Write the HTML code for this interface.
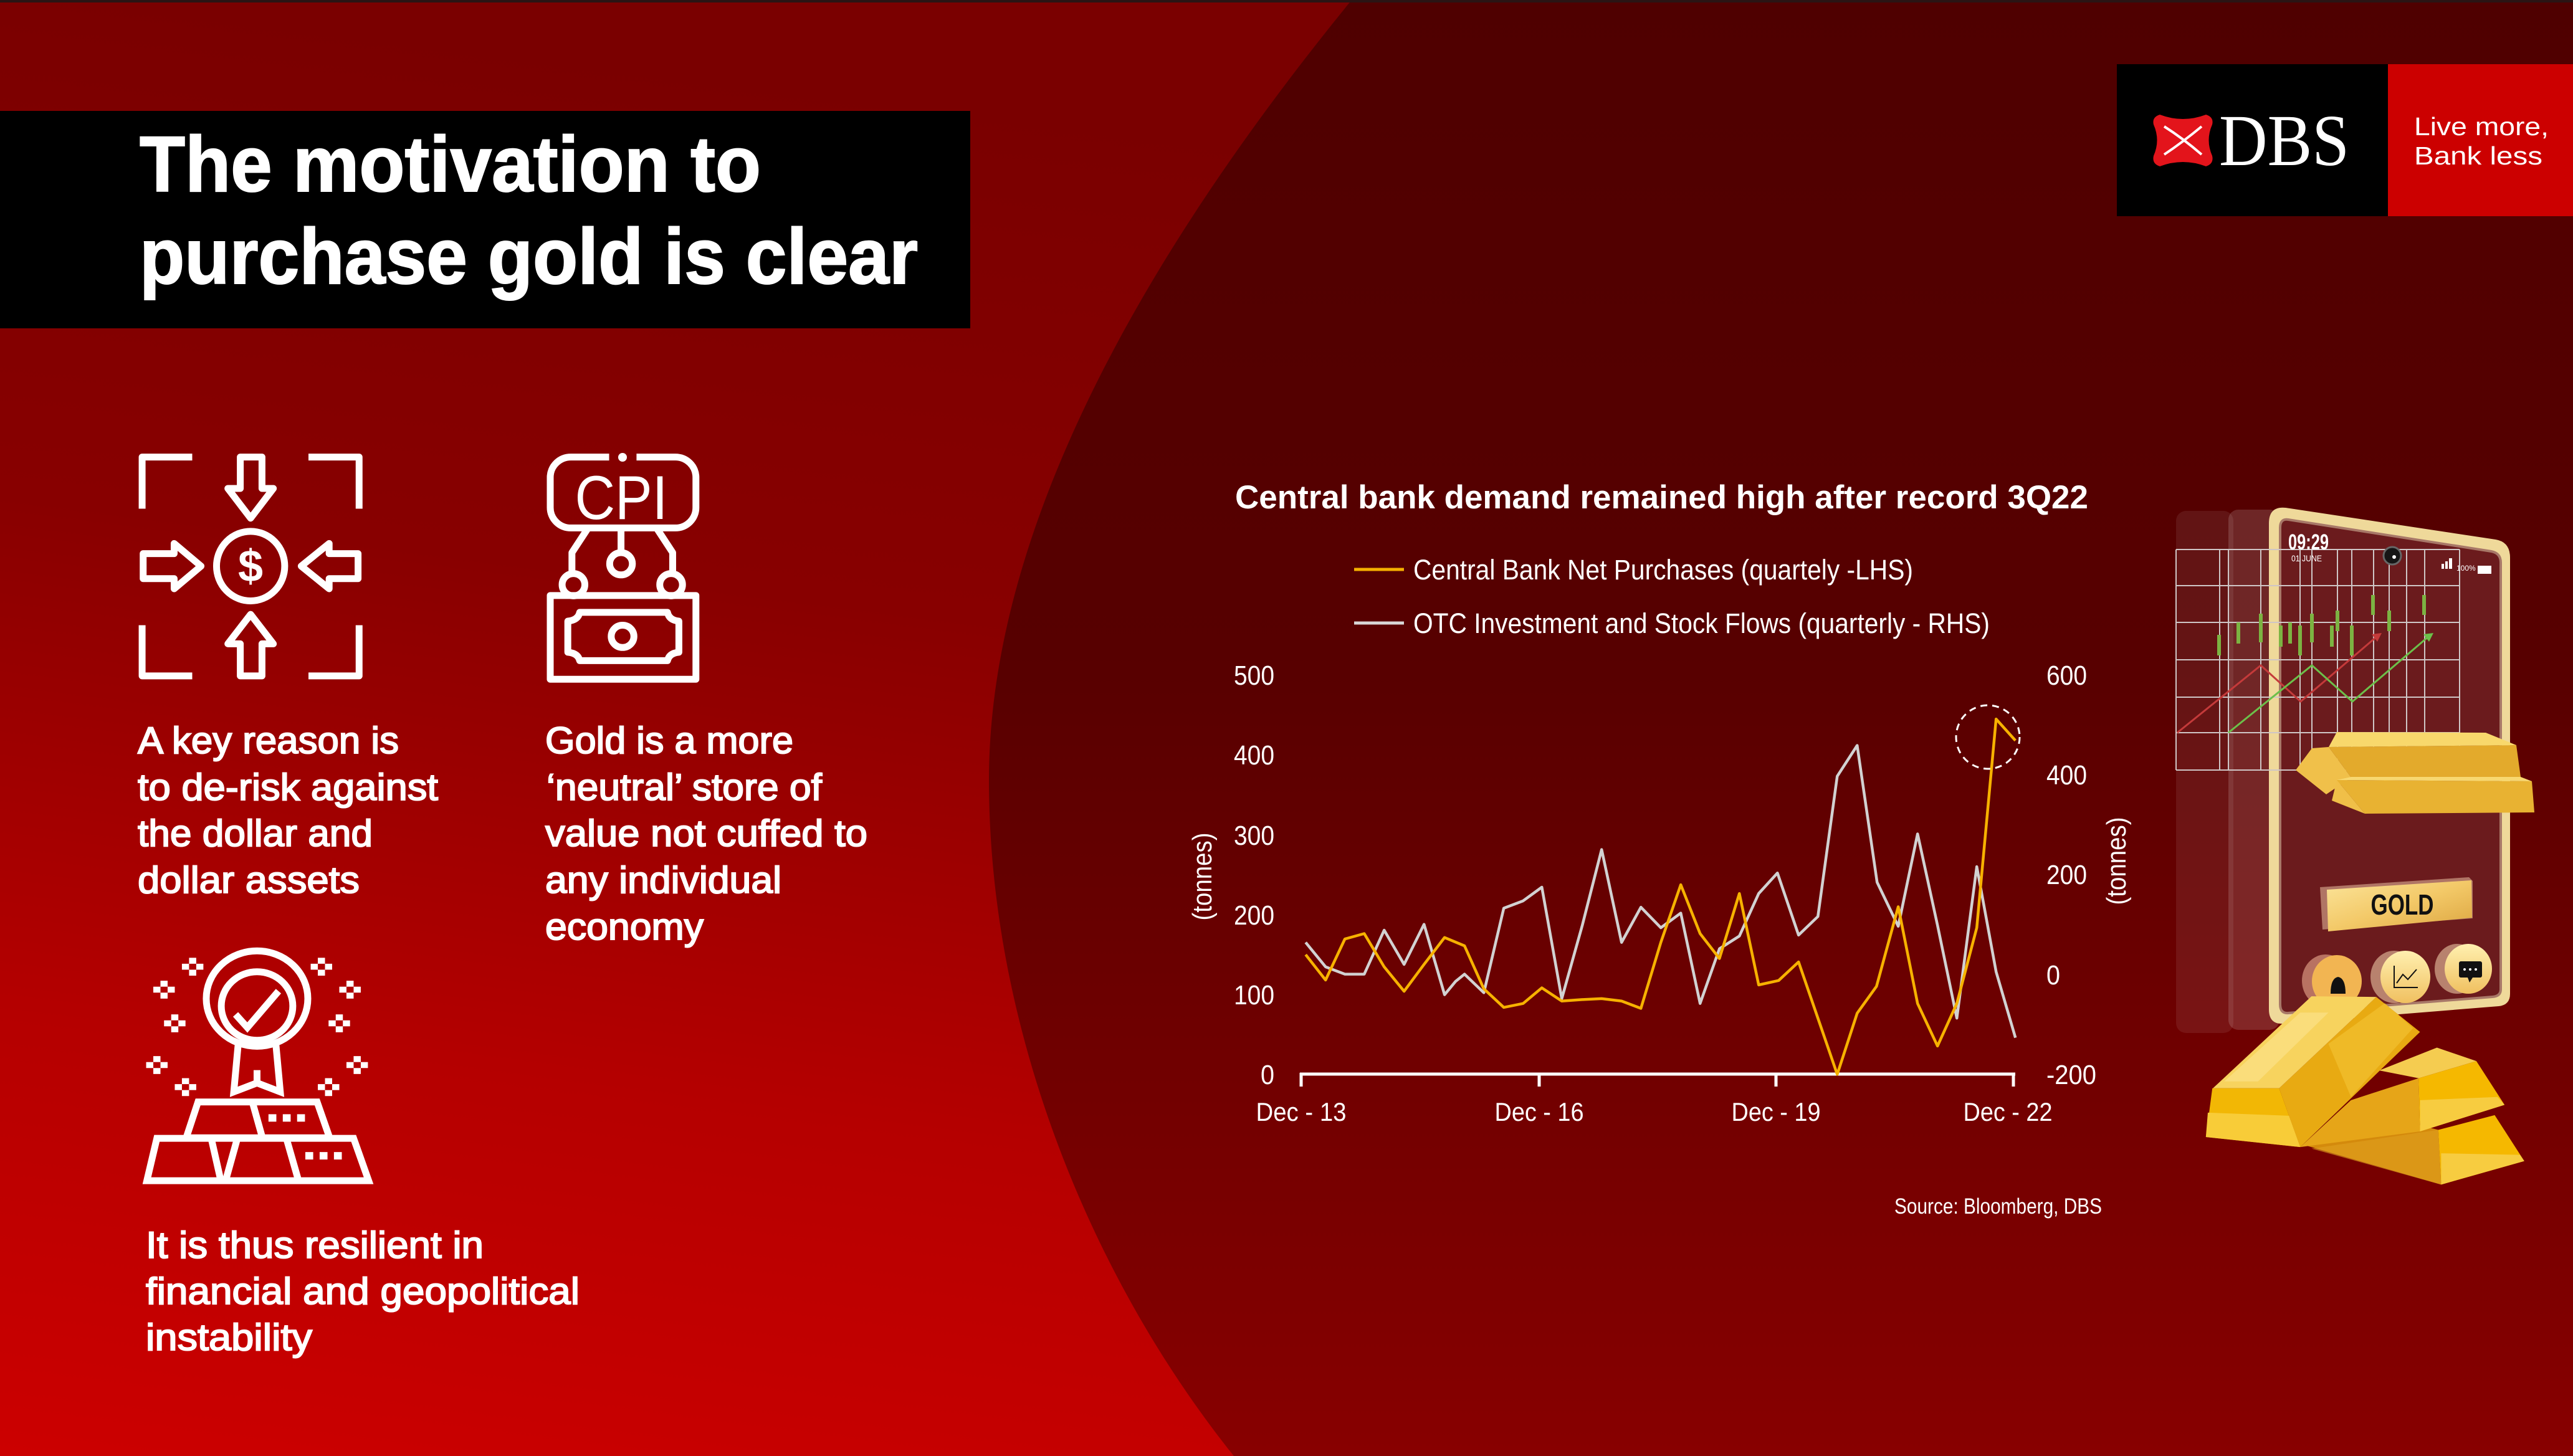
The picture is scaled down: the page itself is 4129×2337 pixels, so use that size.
<!DOCTYPE html>
<html><head><meta charset="utf-8">
<style>
html,body{margin:0;padding:0;background:#7a0000;}
svg{display:block}
.s *{vector-effect:non-scaling-stroke}
text{font-family:"Liberation Sans",Arial,sans-serif}
</style></head><body>
<svg width="4129" height="2337" viewBox="0 0 4129 2337" xmlns="http://www.w3.org/2000/svg">
<defs>
<linearGradient id="gL" gradientUnits="userSpaceOnUse" x1="300" y1="0" x2="0" y2="2337">
<stop offset="0" stop-color="#7a0000"/><stop offset="0.35" stop-color="#880000"/><stop offset="0.7" stop-color="#b50000"/><stop offset="1" stop-color="#cc0000"/>
</linearGradient>
<linearGradient id="gR" gradientUnits="userSpaceOnUse" x1="0" y1="0" x2="0" y2="2337">
<stop offset="0" stop-color="#4f0000"/><stop offset="0.45" stop-color="#570000"/><stop offset="0.75" stop-color="#720000"/><stop offset="1" stop-color="#880000"/>
</linearGradient>
<linearGradient id="gGold" x1="0" y1="0" x2="1" y2="1">
<stop offset="0" stop-color="#fbe49a"/><stop offset="0.5" stop-color="#f3c968"/><stop offset="1" stop-color="#dca540"/>
</linearGradient>
<linearGradient id="gBtn" x1="0" y1="0" x2="0" y2="1">
<stop offset="0" stop-color="#fff0b0"/><stop offset="1" stop-color="#f0c060"/>
</linearGradient>
<g id="sp"><rect x="-10" y="-30" width="20" height="20"/><rect x="-30" y="-10" width="20" height="20"/><rect x="10" y="-10" width="20" height="20"/><rect x="-10" y="10" width="20" height="20"/></g>
</defs>

<!-- backgrounds -->
<rect width="4129" height="2337" fill="url(#gL)"/>
<path d="M2169,0 C1900,330 1587,800 1587,1252 C1587,1650 1750,2050 1980,2337 L4129,2337 L4129,0 Z" fill="url(#gR)"/>
<rect x="0" y="0" width="4129" height="4" fill="#2a1414"/>

<!-- Title block -->
<rect x="0" y="178" width="1557" height="349" fill="#000"/>
<g fill="#fff" stroke="#fff" stroke-width="2">
<text x="224" y="307" font-size="126" font-weight="bold" textLength="997" lengthAdjust="spacingAndGlyphs">The motivation to</text>
<text x="224" y="455" font-size="126" font-weight="bold" textLength="1249" lengthAdjust="spacingAndGlyphs">purchase gold is clear</text>
</g>

<!-- DBS logo -->
<rect x="3397" y="103" width="435" height="244" fill="#000"/>
<rect x="3832" y="103" width="297" height="244" fill="#cc0000"/>
<path d="M3466,184 Q3503,198 3540,184 Q3553,188 3550,200 Q3539,225 3550,250 Q3553,263 3540,267 Q3503,253 3466,267 Q3453,263 3456,250 Q3467,225 3456,200 Q3453,188 3466,184 Z" fill="#e3141b"/>
<path d="M3473,203 Q3503,222 3533,248 M3533,203 Q3503,228 3473,248" stroke="#fff" stroke-width="4" fill="none"/>
<text x="3561" y="265" font-size="118" fill="#fff" textLength="209" lengthAdjust="spacingAndGlyphs" style="font-family:'Liberation Serif',serif">DBS</text>
<text x="3874" y="217" font-size="41" fill="#fff" textLength="216" lengthAdjust="spacingAndGlyphs">Live more,</text>
<text x="3874" y="264" font-size="41" fill="#fff" textLength="206" lengthAdjust="spacingAndGlyphs">Bank less</text>

<!-- Icon 1: arrows & dollar -->
<g class="s" transform="translate(180,700) scale(0.829,0.542)" fill="none" stroke="#fff" stroke-width="11" stroke-linejoin="round">
<polyline points="58,215 58,62 155,62"/>
<polyline points="380,62 478,62 478,215"/>
<polyline points="58,560 58,710 155,710"/>
<polyline points="380,710 478,710 478,560"/>
<polygon points="248,62 290,62 290,155 312,155 268,243 224,155 248,155"/>
<polygon points="248,710 290,710 290,615 312,615 268,528 224,615 248,615"/>
<polygon points="60,348 120,348 120,318 172,385 120,452 120,422 60,422"/>
<polygon points="476,348 420,348 420,318 366,385 420,452 420,422 476,422"/>
<ellipse cx="268" cy="385" rx="66" ry="103"/>
<!-- CPI icon -->
<path d="M962,62 H888 A40,60 0 0 0 848,122 V212 A40,60 0 0 0 888,272 H1090 A40,60 0 0 0 1130,212 V122 A40,60 0 0 0 1090,62 H1015"/>
<polyline points="920,275 890,345 890,408"/>
<line x1="985" y1="275" x2="985" y2="345"/>
<polyline points="1055,275 1085,345 1085,408"/>
<ellipse cx="985" cy="378" rx="22" ry="33"/>
<ellipse cx="893" cy="440" rx="22" ry="33"/>
<ellipse cx="1082" cy="440" rx="22" ry="33"/>
<rect x="848" y="472" width="282" height="248"/>
<path d="M905,522 H1075 Q1078,545 1097,548 V640 Q1078,643 1075,665 H905 Q902,643 882,640 V548 Q902,545 905,522 Z"/>
<ellipse cx="988" cy="593" rx="22" ry="33"/>
</g>
<ellipse cx="999" cy="734" rx="7" ry="7" fill="#fff"/>
<text x="402" y="933" font-size="72" font-weight="bold" fill="#fff" text-anchor="middle">$</text>
<text x="997" y="833" font-size="99" fill="#fff" text-anchor="middle" textLength="149" lengthAdjust="spacingAndGlyphs">CPI</text>

<!-- Icon 3: medal on gold bars -->
<g class="s" transform="translate(180,1500) scale(0.574,0.4783)" fill="none" stroke="#fff" stroke-width="11" stroke-linejoin="miter">
<ellipse cx="405" cy="215" rx="142" ry="160"/>
<ellipse cx="405" cy="240" rx="100" ry="115"/>
<polyline points="345,268 378,312 465,190"/>
<polyline points="352,372 340,528 405,498 470,528 458,372"/>
<line x1="405" y1="455" x2="405" y2="498"/>
<polygon points="240,562 573,562 608,682 207,682"/>
<line x1="392" y1="562" x2="420" y2="682"/>
<polygon points="125,684 675,684 717,826 97,826"/>
<line x1="277" y1="684" x2="303" y2="822"/>
<line x1="350" y1="684" x2="318" y2="822"/>
<line x1="487" y1="684" x2="520" y2="822"/>
</g>
<g transform="translate(180,1500) scale(0.574,0.4783)" fill="#fff">
<rect x="437" y="603" width="22" height="25"/><rect x="477" y="603" width="22" height="25"/><rect x="517" y="603" width="22" height="25"/>
<rect x="540" y="730" width="22" height="25"/><rect x="580" y="730" width="22" height="25"/><rect x="620" y="730" width="22" height="25"/>
<use href="#sp" x="225" y="108"/><use href="#sp" x="145" y="185"/><use href="#sp" x="175" y="298"/><use href="#sp" x="125" y="438"/><use href="#sp" x="205" y="512"/>
<use href="#sp" x="585" y="108"/><use href="#sp" x="665" y="185"/><use href="#sp" x="635" y="298"/><use href="#sp" x="685" y="438"/><use href="#sp" x="605" y="512"/>
</g>

<!-- Left texts -->
<g font-size="60" fill="#fff" stroke="#fff" stroke-width="2">
<text x="221" y="1209" textLength="419" lengthAdjust="spacingAndGlyphs">A key reason is</text>
<text x="221" y="1284" textLength="482" lengthAdjust="spacingAndGlyphs">to de-risk against</text>
<text x="221" y="1358" textLength="377" lengthAdjust="spacingAndGlyphs">the dollar and</text>
<text x="221" y="1433" textLength="356" lengthAdjust="spacingAndGlyphs">dollar assets</text>
<text x="875" y="1209" textLength="398" lengthAdjust="spacingAndGlyphs">Gold is a more</text>
<text x="877" y="1284" textLength="442" lengthAdjust="spacingAndGlyphs">‘neutral’ store of</text>
<text x="875" y="1358" textLength="517" lengthAdjust="spacingAndGlyphs">value not cuffed to</text>
<text x="875" y="1433" textLength="379" lengthAdjust="spacingAndGlyphs">any individual</text>
<text x="875" y="1508" textLength="254" lengthAdjust="spacingAndGlyphs">economy</text>
<text x="234" y="2019" textLength="542" lengthAdjust="spacingAndGlyphs">It is thus resilient in</text>
<text x="234" y="2093" textLength="696" lengthAdjust="spacingAndGlyphs">financial and geopolitical</text>
<text x="234" y="2167" textLength="267" lengthAdjust="spacingAndGlyphs">instability</text>
</g>

<!-- Chart -->
<text x="1982" y="816" font-size="53" font-weight="bold" fill="#fff" textLength="1369" lengthAdjust="spacingAndGlyphs">Central bank demand remained high after record 3Q22</text>
<line x1="2173" y1="914" x2="2253" y2="914" stroke="#f5b000" stroke-width="5"/>
<text x="2268" y="930" font-size="45" fill="#fff" textLength="802" lengthAdjust="spacingAndGlyphs">Central Bank Net Purchases (quartely -LHS)</text>
<line x1="2173" y1="1000" x2="2253" y2="1000" stroke="#d8d8d8" stroke-width="5"/>
<text x="2268" y="1016" font-size="45" fill="#fff" textLength="925" lengthAdjust="spacingAndGlyphs">OTC Investment and Stock Flows (quarterly - RHS)</text>

<g font-size="44" fill="#fff">
<text x="2045" y="1099" text-anchor="end" textLength="65" lengthAdjust="spacingAndGlyphs">500</text>
<text x="2045" y="1227" text-anchor="end" textLength="65" lengthAdjust="spacingAndGlyphs">400</text>
<text x="2045" y="1356" text-anchor="end" textLength="65" lengthAdjust="spacingAndGlyphs">300</text>
<text x="2045" y="1484" text-anchor="end" textLength="65" lengthAdjust="spacingAndGlyphs">200</text>
<text x="2045" y="1612" text-anchor="end" textLength="65" lengthAdjust="spacingAndGlyphs">100</text>
<text x="2045" y="1740" text-anchor="end" textLength="22" lengthAdjust="spacingAndGlyphs">0</text>
<text x="3284" y="1099" textLength="65" lengthAdjust="spacingAndGlyphs">600</text>
<text x="3284" y="1259" textLength="65" lengthAdjust="spacingAndGlyphs">400</text>
<text x="3284" y="1419" textLength="65" lengthAdjust="spacingAndGlyphs">200</text>
<text x="3284" y="1580" textLength="22" lengthAdjust="spacingAndGlyphs">0</text>
<text x="3284" y="1740" textLength="80" lengthAdjust="spacingAndGlyphs">-200</text>
<text x="2088" y="1799" text-anchor="middle" font-size="42" textLength="145" lengthAdjust="spacingAndGlyphs">Dec - 13</text>
<text x="2470" y="1799" text-anchor="middle" font-size="42" textLength="143" lengthAdjust="spacingAndGlyphs">Dec - 16</text>
<text x="2850" y="1799" text-anchor="middle" font-size="42" textLength="143" lengthAdjust="spacingAndGlyphs">Dec - 19</text>
<text x="3222" y="1799" text-anchor="middle" font-size="42" textLength="143" lengthAdjust="spacingAndGlyphs">Dec - 22</text>
<text transform="translate(1930,1407) rotate(-90)" x="0" y="14" text-anchor="middle" textLength="141" lengthAdjust="spacingAndGlyphs">(tonnes)</text>
<text transform="translate(3397,1382) rotate(-90)" x="0" y="14" text-anchor="middle" textLength="141" lengthAdjust="spacingAndGlyphs">(tonnes)</text>
</g>
<text x="3373" y="1948" font-size="35" fill="#fff" text-anchor="end" textLength="333" lengthAdjust="spacingAndGlyphs">Source: Bloomberg, DBS</text>

<line x1="2086" y1="1724" x2="3234" y2="1724" stroke="#fff" stroke-width="5"/>
<g stroke="#fff" stroke-width="5">
<line x1="2088" y1="1722" x2="2088" y2="1744"/><line x1="2470" y1="1722" x2="2470" y2="1744"/><line x1="2850" y1="1722" x2="2850" y2="1744"/><line x1="3231" y1="1722" x2="3231" y2="1744"/>
</g>

<g class="s" transform="translate(1880,740) scale(0.9694,0.7844)" fill="none" stroke-width="4.5" stroke-linejoin="round">
<polyline stroke="#d2d2d2" points="222,985 255,1035 287,1050 319,1050 352,960 385,1030 418,948 452,1092 470,1065 485,1050 517,1088 550,915 582,900 613,872 646,1100 680,950 712,795 745,985 777,913 810,955 843,925 875,1110 907,998 940,972 972,885 1003,843 1038,970 1070,932 1102,645 1135,582 1168,862 1203,952 1235,763 1268,950 1300,1140 1333,830 1365,1045 1397,1180"/>
<polyline stroke="#f7b200" points="222,1010 255,1062 287,978 319,967 352,1035 385,1085 418,1030 452,975 485,992 517,1080 550,1118 582,1110 613,1078 646,1105 680,1102 712,1100 745,1105 777,1120 810,985 843,867 875,967 907,1018 940,885 972,1072 1005,1063 1038,1025 1070,1140 1102,1255 1135,1130 1167,1075 1203,912 1235,1110 1268,1197 1300,1110 1333,955 1365,528 1397,572"/>
</g>
<circle cx="3190" cy="1183" r="51" fill="none" stroke="#fff" stroke-width="3" stroke-dasharray="11 8"/>

<!-- Phone illustration -->
<rect x="3492" y="820" width="92" height="838" rx="16" fill="#fff" opacity="0.08"/>
<rect x="3576" y="818" width="82" height="835" rx="16" fill="#fff" opacity="0.15"/>
<path d="M3668,815 L4005,866 Q4028,870 4028,895 L4028,1595 Q4028,1613 4010,1615 L3665,1643 Q3641,1645 3641,1620 L3641,840 Q3641,812 3668,815 Z" fill="#efd99a"/>
<path d="M3672,834 L3998,885 Q4013,888 4013,903 L4013,1588 Q4013,1599 4000,1600 L3672,1626 Q3659,1627 3659,1612 L3659,847 Q3659,832 3672,834 Z" fill="#6b1b1d" stroke="#a87868" stroke-width="4"/>
<g stroke="#cfc6c6" stroke-width="2" fill="none">
<line x1="3492" y1="882" x2="3947" y2="882"/><line x1="3492" y1="940" x2="3947" y2="940"/><line x1="3492" y1="999" x2="3947" y2="999"/><line x1="3492" y1="1059" x2="3947" y2="1059"/><line x1="3492" y1="1119" x2="3947" y2="1119"/><line x1="3492" y1="1176" x2="3947" y2="1176"/><line x1="3492" y1="1236" x2="3947" y2="1236"/>
<line x1="3492" y1="882" x2="3492" y2="1236"/><line x1="3562" y1="882" x2="3562" y2="1236"/><line x1="3576" y1="882" x2="3576" y2="1236"/><line x1="3628" y1="882" x2="3628" y2="1236"/><line x1="3691" y1="882" x2="3691" y2="1236"/><line x1="3710" y1="882" x2="3710" y2="1236"/><line x1="3751" y1="882" x2="3751" y2="1236"/><line x1="3774" y1="882" x2="3774" y2="1236"/><line x1="3809" y1="882" x2="3809" y2="1236"/><line x1="3834" y1="882" x2="3834" y2="1236"/><line x1="3862" y1="882" x2="3862" y2="1236"/><line x1="3891" y1="882" x2="3891" y2="1236"/><line x1="3947" y1="882" x2="3947" y2="1236"/>
</g>
<polyline points="3494,1176 3628,1068 3692,1126 3815,1021" fill="none" stroke="#c43a3a" stroke-width="3"/>
<polygon points="3806,1018 3822,1016 3815,1030" fill="#c43a3a"/>
<polyline points="3576,1176 3710,1068 3775,1126 3898,1021" fill="none" stroke="#6cc04a" stroke-width="3"/>
<polygon points="3889,1018 3905,1016 3898,1030" fill="#6cc04a"/>
<g fill="#7cb342">
<rect x="3558" y="1019" width="6" height="33"/><rect x="3589" y="999" width="6" height="34"/><rect x="3625" y="985" width="6" height="46"/><rect x="3657" y="1004" width="6" height="34"/><rect x="3672" y="999" width="6" height="34"/><rect x="3688" y="1004" width="6" height="48"/><rect x="3707" y="985" width="6" height="46"/><rect x="3739" y="1004" width="6" height="34"/><rect x="3748" y="980" width="6" height="33"/><rect x="3771" y="1004" width="6" height="48"/><rect x="3805" y="955" width="6" height="32"/><rect x="3831" y="980" width="6" height="33"/><rect x="3887" y="955" width="6" height="32"/>
</g>
<text x="3672" y="882" font-size="35" font-weight="bold" fill="#fff" textLength="65" lengthAdjust="spacingAndGlyphs">09:29</text>
<text x="3677" y="901" font-size="14" fill="#fff" textLength="49" lengthAdjust="spacingAndGlyphs">01 JUNE</text>
<circle cx="3839" cy="892" r="14" fill="#151515" stroke="#666" stroke-width="3"/>
<circle cx="3842" cy="894" r="3" fill="#fff"/>
<g fill="#fff"><rect x="3918" y="905" width="4" height="8"/><rect x="3924" y="901" width="4" height="12"/><rect x="3930" y="896" width="5" height="17"/><rect x="3976" y="908" width="22" height="13"/></g>
<text x="3942" y="916" font-size="12" fill="#fff">100%</text>

<!-- top gold bars -->
<polygon points="3684,1236 3710,1201 3737,1199 3773,1248 3733,1275" fill="#f0c04a"/>
<polygon points="3737,1199 4038,1196 4045,1247 3773,1248" fill="#e3aa2c"/>
<polygon points="3750,1175 3989,1176 4038,1196 3737,1199" fill="#f8d86c"/>
<polygon points="3742,1285 3750,1252 3795,1306" fill="#f0bf48"/>
<polygon points="3750,1252 4063,1254 4067,1304 3795,1306" fill="#e8b232"/>
<polygon points="3773,1247 4045,1247 4063,1254 3750,1252" fill="#f8d870"/>

<!-- GOLD button -->
<polygon points="3723,1424 3962,1408 3968,1414 3968,1474 3727,1492" fill="#b07565"/>
<polygon points="3734,1428 3966,1413 3967,1473 3736,1495" fill="url(#gGold)"/>
<text x="3855" y="1468" font-size="46" font-weight="bold" fill="#111" text-anchor="middle" textLength="101" lengthAdjust="spacingAndGlyphs">GOLD</text>

<!-- round buttons -->
<ellipse cx="3732" cy="1574" rx="38" ry="42" fill="#b87262"/>
<ellipse cx="3750" cy="1575" rx="40" ry="42" fill="#f2b552"/>
<path d="M3740,1595 Q3740,1570 3752,1568 Q3764,1570 3764,1595 Z" fill="#111"/>
<ellipse cx="3842" cy="1568" rx="38" ry="42" fill="#b8826e"/>
<ellipse cx="3860" cy="1568" rx="40" ry="42" fill="url(#gBtn)"/>
<polyline points="3842,1550 3842,1585 3880,1585" fill="none" stroke="#111" stroke-width="2"/>
<polyline points="3846,1578 3856,1564 3864,1572 3878,1556" fill="none" stroke="#111" stroke-width="2"/>
<ellipse cx="3943" cy="1555" rx="36" ry="40" fill="#b8826e"/>
<ellipse cx="3961" cy="1555" rx="38" ry="40" fill="url(#gBtn)"/>
<rect x="3946" y="1543" width="37" height="26" rx="3" fill="#111"/>
<polygon points="3960,1569 3968,1569 3963,1577" fill="#111"/>
<g fill="#fff"><circle cx="3955" cy="1556" r="2"/><circle cx="3964" cy="1556" r="2"/><circle cx="3973" cy="1556" r="2"/></g>

<!-- bottom gold bars -->
<g transform="translate(3420,1550) scale(0.4522,0.5019)">
<polygon points="620,575 800,460 1090,525 1100,700" fill="#d48a0c"/>
<polygon points="640,585 1100,700 1090,525" fill="#e0a020" opacity="0.6"/>
<polygon points="1090,525 1290,478 1395,625 1100,700" fill="#f5b800"/>
<polygon points="1100,600 1380,605 1395,625 1100,700" fill="#f7cc40"/>
<polygon points="600,580 780,430 1020,360 1025,530" fill="#e6a518"/>
<polygon points="1020,360 1225,305 1325,445 1025,530" fill="#f5b800"/>
<polygon points="1025,430 1300,420 1325,445 1025,530" fill="#f7cc40"/>
<polygon points="880,335 1085,262 1225,305 1020,360" fill="#f5cc50"/>
<polygon points="525,392 870,100 1025,212 600,580" fill="#e8aa12"/>
<polygon points="700,250 900,120 1000,200 780,420" fill="#f2c030" opacity="0.7"/>
<polygon points="290,392 640,98 870,100 525,392" fill="#f7d35e"/>
<polygon points="330,370 600,150 700,150 450,370" fill="#fbe490" opacity="0.6"/>
<polygon points="288,392 525,392 600,580 265,548" fill="#f2b705"/>
<polygon points="272,470 560,480 600,580 265,548" fill="#f8cc38"/>
</g>
</svg>
</body></html>
